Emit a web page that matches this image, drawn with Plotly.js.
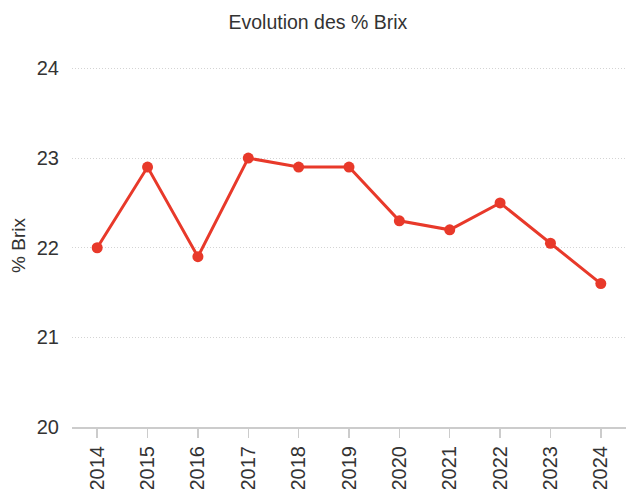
<!DOCTYPE html>
<html>
<head>
<meta charset="utf-8">
<script src="https://cdn.plot.ly/plotly-3.0.1.min.js"></script>
<style>html,body{margin:0;padding:0;background:#fff;}#chart{width:627px;height:489px;}</style>
</head>
<body>
<div id="chart"></div>
<script>
const years = ["2014","2015","2016","2017","2018","2019","2020","2021","2022","2023","2024"];
const brix = [22.0, 22.9, 21.9, 23.0, 22.9, 22.9, 22.3, 22.2, 22.5, 22.05, 21.6];
const yTicks = [20, 21, 22, 23, 24];

const trace = {
  x: years, y: brix, type: 'scatter', mode: 'lines+markers',
  line: {color: '#e8392a', width: 3},
  marker: {color: '#e8392a', size: 11},
  hoverinfo: 'none', cliponaxis: false
};
const layout = {
  width: 627, height: 489,
  margin: {l: 72, r: 1, t: 64, b: 62},
  paper_bgcolor: '#fff', plot_bgcolor: '#fff',
  font: {family: 'Liberation Sans, Arial, sans-serif', color: '#333'},
  title: {text: 'Evolution des % Brix', font: {size: 19.5, color: '#333'}, x: 0.507, xanchor: 'center', y: 0.955, yanchor: 'middle'},
  showlegend: false,
  xaxis: {
    type: 'category', range: [-0.5, 10.5], tickangle: -90,
    tickfont: {size: 20, color: '#333'},
    showgrid: false, zeroline: false,
    showline: true, linecolor: '#cccccc', linewidth: 2,
    ticks: 'outside', ticklen: 9, tickcolor: '#cccccc', tickwidth: 1.5,
    fixedrange: true
  },
  yaxis: {
    range: [20, 24.05], tickvals: yTicks, ticktext: yTicks.map(String),
    tickfont: {size: 20, color: '#333'},
    ticklabelstandoff: 12,
    showgrid: true, gridcolor: '#d4d4d4', griddash: '1px,2px', gridwidth: 1,
    zeroline: false, showline: false, ticks: '',
    title: {text: '% Brix', font: {size: 19, color: '#333'}, standoff: 6},
    fixedrange: true
  }
};
Plotly.newPlot('chart', [trace], layout, {displayModeBar: false, staticPlot: true});
</script>
</body>
</html>
